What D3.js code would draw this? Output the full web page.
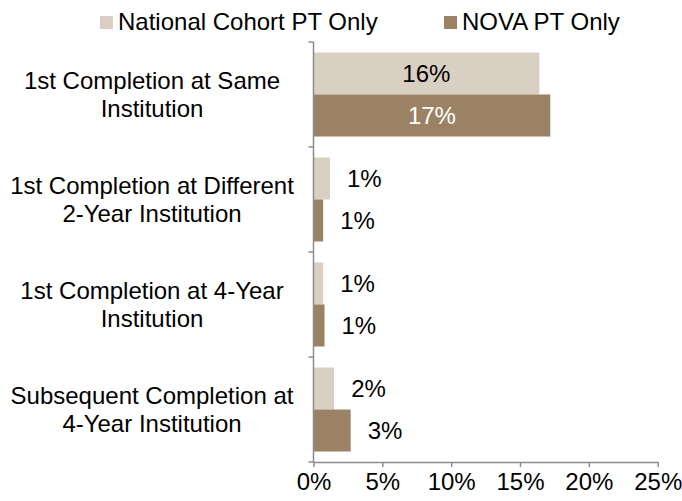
<!DOCTYPE html>
<html>
<head>
<meta charset="utf-8">
<script src="https://cdn.jsdelivr.net/npm/d3@7"></script>
<style>
  body { margin: 0; background: #fff; }
  text { font-family: "Liberation Sans", Arial, sans-serif; }
</style>
</head>
<body>
<svg id="chart" width="682" height="501"></svg>
<script>
const categories = [
  ["1st Completion at Same", "Institution"],
  ["1st Completion at Different", "2-Year Institution"],
  ["1st Completion at 4-Year", "Institution"],
  ["Subsequent Completion at", "4-Year Institution"]
];
const seriesNames = ["National Cohort PT Only", "NOVA PT Only"];
const nationalValues = [16.4, 1.2, 0.7, 1.5];
const novaValues = [17.2, 0.7, 0.8, 2.7];
const xTicks = [0, 5, 10, 15, 20, 25];

const colors = ["#D9CFC2", "#9C8264"];
const labelColorsInside = ["#000", "#fff"];
const FS = 24;

const svg = d3.select("#chart");
const plotLeft = 313.5, plotRight = 657.7, plotTop = 42, plotBottom = 462;

const catKeys = categories.map((c, i) => i);
const x = d3.scaleLinear().domain([0, 25]).range([plotLeft, plotRight]);
const y0 = d3.scaleBand().domain(catKeys).range([plotTop, plotBottom]).paddingInner(0.2).paddingOuter(0.1);
const y1 = d3.scaleBand().domain([0, 1]).range([0, y0.bandwidth()]);

const series = [nationalValues, novaValues];
const data = [];
catKeys.forEach(ci => {
  series.forEach((vals, si) => data.push({ ci, si, v: vals[ci] }));
});

// bars
svg.append("g").selectAll("rect").data(data).join("rect")
  .attr("x", x(0))
  .attr("y", d => y0(d.ci) + y1(d.si))
  .attr("width", d => x(d.v) - x(0))
  .attr("height", y1.bandwidth())
  .attr("fill", d => colors[d.si]);

// data labels
svg.append("g").selectAll("text").data(data).join("text")
  .attr("font-size", FS)
  .attr("x", d => d.v > 5 ? (x(0) + x(d.v)) / 2 : x(d.v) + 17)
  .attr("text-anchor", d => d.v > 5 ? "middle" : "start")
  .attr("y", d => y0(d.ci) + y1(d.si) + y1.bandwidth() / 2 + 8.5)
  .attr("fill", d => d.v > 5 ? labelColorsInside[d.si] : "#000")
  .text(d => Math.round(d.v) + "%");

// x axis
const xAxis = svg.append("g")
  .attr("transform", `translate(0,${plotBottom})`)
  .call(d3.axisBottom(x).tickValues(xTicks).tickFormat(d => d + "%").tickSize(5).tickPadding(6).tickSizeOuter(0));
xAxis.select(".domain").attr("stroke", "#8c8c8c").attr("stroke-width", 1.5);
xAxis.selectAll(".tick line").attr("stroke", "#8c8c8c").attr("stroke-width", 1.5);
xAxis.selectAll(".tick text").attr("font-size", FS).attr("fill", "#000")
  .attr("font-family", "'Liberation Sans', Arial, sans-serif");

// y axis line and ticks at category boundaries
const yAxis = svg.append("g");
yAxis.append("line")
  .attr("x1", x(0)).attr("x2", x(0)).attr("y1", plotTop).attr("y2", plotBottom)
  .attr("stroke", "#8c8c8c").attr("stroke-width", 1.5);
const bounds = d3.range(categories.length + 1).map(i => plotTop + i * y0.step());
yAxis.selectAll("line.t").data(bounds).join("line").attr("class", "t")
  .attr("x1", x(0) - 5).attr("x2", x(0)).attr("y1", d => d).attr("y2", d => d)
  .attr("stroke", "#8c8c8c").attr("stroke-width", 1.5);

// category labels
const catG = svg.append("g");
categories.forEach((lines, ci) => {
  const cy = y0(ci) + y0.bandwidth() / 2;
  const t = catG.append("text").attr("font-size", FS).attr("text-anchor", "middle").attr("fill", "#000");
  lines.forEach((ln, li) => {
    t.append("tspan").attr("x", 152).attr("y", cy + (li - (lines.length - 1) / 2) * 28 + 8.5).text(ln);
  });
});

// legend
const legendX = [100, 444];
const legend = svg.append("g");
seriesNames.forEach((name, i) => {
  legend.append("rect").attr("x", legendX[i]).attr("y", 16).attr("width", 13).attr("height", 13).attr("fill", colors[i]);
  legend.append("text").attr("x", legendX[i] + 18).attr("y", 30).attr("font-size", FS).attr("fill", "#000").text(name);
});
</script>
</body>
</html>
